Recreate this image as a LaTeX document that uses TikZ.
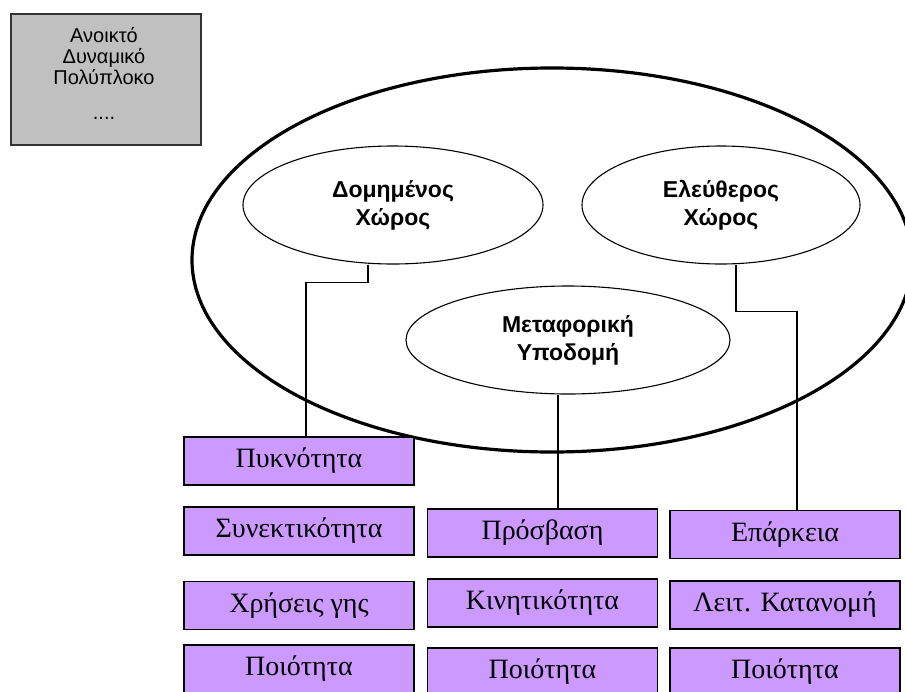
\documentclass[tikz,border=0pt]{standalone}
\usepackage{fontspec}
\setmainfont{Liberation Serif}
\newfontfamily\arialfont{Liberation Sans}
\usetikzlibrary{shapes.geometric}
\definecolor{lila}{HTML}{CC99FF}
\definecolor{grigio}{HTML}{C0C0C0}
\tikzset{
  cell/.style={draw,line width=1.2pt,fill=lila,minimum width=230pt,minimum height=48pt,
    inner sep=0pt,font=\fontsize{28}{30}\selectfont},
  blob/.style={draw,ellipse,line width=1.1pt,inner sep=0pt,align=center,
    font=\arialfont\bfseries\fontsize{23}{28}\selectfont},
  conn/.style={line width=1.2pt}
}
\begin{document}
\begin{tikzpicture}[x=1pt,y=-1pt]
  \useasboundingbox (0,0) rectangle (905,691);
  % context box
  \filldraw[fill=grigio,draw=black!80,line width=1.5pt] (11,14) rectangle (201,145);
  \node[align=center,font=\arialfont\fontsize{20}{21}\selectfont] (ctx) at (104,73)
    {Ανοικτό\\Δυναμικό\\Πολύπλοκο\\[14pt]....};
  % big ellipse
  \node[draw,ellipse,line width=3.2pt,minimum width=720pt,minimum height=384pt] (olo) at (552,260) {};
  % inner ellipses
  \node[blob,minimum width=300pt,minimum height=118pt] (dom) at (393,205) {Δομημένος\\Χώρος};
  \node[blob,minimum width=278pt,minimum height=118pt] (ele) at (721,205) {Ελεύθερος\\Χώρος};
  \node[blob,minimum width=324pt,minimum height=108pt] (met) at (568,340) {Μεταφορική\\Υποδομή};
  % first column
  \node[cell] (pyk) at (299,461) {Πυκνότητα};
  \node[cell] (syn) at (299,531) {Συνεκτικότητα};
  \node[cell] (xrh) at (299,605.5) {Χρήσεις γης};
  \node[cell] (poi1) at (299,669) {Ποιότητα};
  % second column
  \node[cell] (pro) at (542.5,533) {Πρόσβαση};
  \node[cell] (kin) at (542.5,603) {Κινητικότητα};
  \node[cell] (poi2) at (542.5,672) {Ποιότητα};
  % third column
  \node[cell] (epa) at (785,534.5) {Επάρκεια};
  \node[cell] (lei) at (785,605) {Λειτ. Κατανομή};
  \node[cell] (poi3) at (785,672) {Ποιότητα};
  % links
  \draw[conn] ([xshift=-25pt]dom.south) -- ++(0,18) -| ([xshift=7pt]pyk.north);
  \coordinate (m) at ([xshift=-10pt]met.south);
  \draw[conn] (m) -- (m |- pro.north);
  \draw[conn] ([xshift=15pt]ele.south) -- ++(0,47) -| ([xshift=12pt]epa.north);
\end{tikzpicture}
\end{document}
